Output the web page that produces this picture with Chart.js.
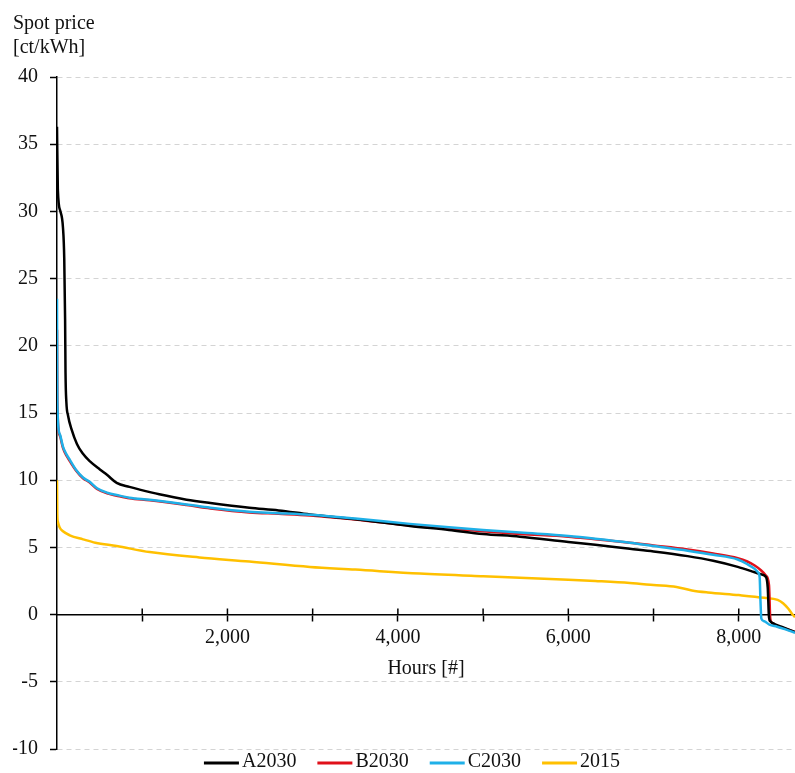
<!DOCTYPE html>
<html>
<head>
<meta charset="utf-8">
<title>Spot price duration curves</title>
<script src="https://cdn.jsdelivr.net/npm/chart.js@4/dist/chart.umd.min.js"></script>
<style>
  html, body { margin: 0; padding: 0; background: #fff; }
  canvas { display: block; }
</style>
</head>
<body>
<canvas id="chart" width="795" height="773"></canvas>
<script>
// Series labels
const seriesLabels = ['A2030', 'B2030', 'C2030', '2015'];

// A2030 - hours [#] and spot price [ct/kWh]
const hoursA = [0, 10, 40, 70, 85, 95, 100, 110, 130, 170, 234, 300, 387, 503, 586, 700, 850, 970, 1200, 1520, 1800, 2257, 2600, 2968, 3500, 4141, 4600, 5000, 5431, 6000, 6316, 6722, 7000, 7400, 7700, 7988, 8187, 8260, 8320, 8340, 8355, 8370, 8420, 8500, 8580, 8660];
const priceA = [36.3, 31.6, 30.0, 28.8, 26.5, 22.0, 18.0, 15.8, 14.8, 13.8, 12.7, 12.0, 11.4, 10.8, 10.4, 9.8, 9.5, 9.3, 8.95, 8.55, 8.3, 7.95, 7.75, 7.45, 7.1, 6.6, 6.3, 6.0, 5.8, 5.4, 5.2, 4.9, 4.7, 4.35, 4.0, 3.55, 3.15, 3.0, 2.8, 2.0, -0.2, -0.5, -0.7, -0.9, -1.1, -1.3];

// B2030
const hoursB = [0, 3, 8, 15, 40, 70, 113, 152, 220, 305, 380, 470, 600, 700, 850, 1088, 1520, 1800, 2257, 2600, 2968, 3500, 4141, 4600, 5000, 5431, 6000, 6316, 6722, 7000, 7400, 7700, 7988, 8100, 8187, 8260, 8320, 8355, 8370, 8390, 8450, 8550, 8660];
const priceB = [21.2, 16.5, 14.8, 13.9, 13.2, 12.4, 11.8, 11.4, 10.75, 10.15, 9.85, 9.35, 9.0, 8.85, 8.65, 8.5, 8.15, 7.9, 7.6, 7.5, 7.38, 7.08, 6.62, 6.4, 6.2, 6.0, 5.8, 5.6, 5.35, 5.15, 4.85, 4.55, 4.2, 3.95, 3.65, 3.3, 2.9, 2.2, -0.3, -0.6, -0.85, -1.05, -1.3];

// C2030
const hoursC = [0, 3, 8, 15, 40, 70, 113, 152, 220, 305, 380, 470, 600, 700, 850, 1088, 1520, 1800, 2257, 2600, 2968, 3500, 4141, 4600, 5000, 5431, 6000, 6316, 6722, 7000, 7400, 7700, 7988, 8100, 8187, 8225, 8245, 8255, 8265, 8300, 8360, 8450, 8550, 8660];
const priceC = [23.5, 17.0, 15.0, 14.0, 13.3, 12.5, 11.9, 11.5, 10.8, 10.2, 9.9, 9.4, 9.05, 8.9, 8.7, 8.55, 8.2, 7.95, 7.65, 7.55, 7.43, 7.15, 6.75, 6.5, 6.3, 6.1, 5.85, 5.65, 5.35, 5.1, 4.75, 4.45, 4.1, 3.75, 3.4, 3.15, 2.8, 1.0, -0.3, -0.5, -0.75, -0.9, -1.1, -1.35];

// 2015
const hours15 = [0, 3, 10, 30, 70, 150, 306, 450, 700, 1088, 1670, 2257, 2968, 3500, 4258, 5000, 5431, 6000, 6316, 6722, 7000, 7270, 7450, 7637, 8000, 8300, 8456, 8520, 8580, 8620, 8660];
const price15 = [10.0, 7.5, 6.9, 6.5, 6.2, 5.9, 5.6, 5.35, 5.1, 4.65, 4.25, 3.95, 3.55, 3.35, 3.05, 2.85, 2.75, 2.6, 2.5, 2.35, 2.2, 2.05, 1.8, 1.65, 1.45, 1.25, 1.1, 0.85, 0.45, 0.1, -0.2];

// Axis ticks and ranges
const xTicks = [1000, 2000, 3000, 4000, 5000, 6000, 7000, 8000];
const xMax = 8660;
const yTicks = [-10, -5, 0, 5, 10, 15, 20, 25, 30, 35, 40];

const COLORS = {
  a: '#000000',
  b: '#e0101a',
  c: '#1fb0e8',
  y2015: '#ffc000',
  text: '#111111',
  grid: '#d4d4d4',
};

const FONT = { family: '"Liberation Serif", "Times New Roman", serif', size: 20 };

const toPoints = (xs, ys) => xs.map((x, i) => ({ x, y: ys[i] }));

// Small tick marks above the x axis line (Excel style crossing ticks)
const crossTicks = {
  id: 'crossTicks',
  afterDraw(chart) {
    const xs = chart.scales.x;
    const y0 = chart.scales.y.getPixelForValue(0);
    const ctx = chart.ctx;
    ctx.save();
    ctx.strokeStyle = '#000';
    ctx.lineWidth = 1.5;
    ctx.beginPath();
    xs.ticks.forEach((t) => {
      const px = xs.getPixelForValue(t.value);
      ctx.moveTo(px, y0 - 6);
      ctx.lineTo(px, y0);
    });
    ctx.stroke();
    ctx.restore();
  },
};

// Legend with long line samples and tight text spacing
const lineLegend = {
  id: 'lineLegend',
  afterDraw(chart) {
    const ctx = chart.ctx;
    const sets = chart.data.datasets;
    const lineLen = 35;
    const gapText = 3;
    const gapItem = 21;
    ctx.save();
    ctx.font = `${FONT.size}px ${FONT.family}`;
    const widths = sets.map((ds) => lineLen + gapText + ctx.measureText(ds.label).width);
    const total = widths.reduce((a, b) => a + b, 0) + gapItem * (sets.length - 1);
    const area = chart.chartArea;
    let x = (area.left + area.right) / 2 - 14 - total / 2;
    const y = area.bottom + 13;
    ctx.textBaseline = 'middle';
    ctx.textAlign = 'left';
    sets.forEach((ds, i) => {
      ctx.strokeStyle = ds.borderColor;
      ctx.lineWidth = 3;
      ctx.beginPath();
      ctx.moveTo(x, y + 1);
      ctx.lineTo(x + lineLen, y + 1);
      ctx.stroke();
      ctx.fillStyle = COLORS.text;
      ctx.fillText(ds.label, x + lineLen + gapText, y);
      x += widths[i] + gapItem;
    });
    ctx.restore();
  },
};

const lineStyle = {
  borderWidth: 2.5,
  pointRadius: 0,
  pointHoverRadius: 0,
  fill: false,
  cubicInterpolationMode: 'monotone',
};

new Chart(document.getElementById('chart'), {
  type: 'line',
  data: {
    datasets: [
      { label: seriesLabels[0], data: toPoints(hoursA, priceA), borderColor: COLORS.a, order: 1, ...lineStyle },
      { label: seriesLabels[1], data: toPoints(hoursB, priceB), borderColor: COLORS.b, order: 2, ...lineStyle },
      { label: seriesLabels[2], data: toPoints(hoursC, priceC), borderColor: COLORS.c, order: 0, ...lineStyle },
      { label: seriesLabels[3], data: toPoints(hours15, price15), borderColor: COLORS.y2015, order: 3, ...lineStyle },
    ],
  },
  options: {
    responsive: false,
    devicePixelRatio: 1,
    animation: false,
    layout: { padding: { left: 13, right: 0, top: 0, bottom: 23 } },
    scales: {
      x: {
        type: 'linear',
        position: { y: 0 },
        min: 0,
        max: xMax,
        afterBuildTicks(scale) {
          scale.ticks = xTicks.map((v) => ({ value: v }));
        },
        ticks: {
          color: COLORS.text,
          font: FONT,
          padding: 5,
          maxRotation: 0,
          autoSkip: false,
          callback: (v) => (v % 2000 === 0 ? v.toLocaleString('en-US') : ''),
        },
        grid: {
          drawOnChartArea: false,
          tickLength: 6,
          tickColor: '#000',
          tickWidth: 1.5,
        },
        border: { display: true, color: '#000', width: 1.5 },
        title: {
          display: true,
          text: 'Hours [#]',
          color: COLORS.text,
          font: FONT,
          padding: { top: 2 },
        },
      },
      y: {
        type: 'linear',
        min: yTicks[0],
        max: yTicks[yTicks.length - 1],
        afterBuildTicks(scale) {
          scale.ticks = yTicks.map((v) => ({ value: v }));
        },
        afterFit(scale) {
          scale.width = 44;
        },
        ticks: {
          color: COLORS.text,
          font: FONT,
          padding: 12,
        },
        grid: {
          color: COLORS.grid,
          lineWidth: 1,
          tickLength: 7,
          tickColor: '#000',
          tickWidth: 1.5,
          tickBorderDash: [],
        },
        border: { display: true, color: '#000', width: 1.5, dash: [5, 4] },
      },
    },
    plugins: {
      legend: { display: false },
      tooltip: { enabled: false },
      title: {
        display: true,
        text: ['Spot price', '[ct/kWh]'],
        align: 'start',
        color: COLORS.text,
        font: { ...FONT, weight: 'normal', lineHeight: 1.2 },
        padding: { top: 12, bottom: 17 },
      },
    },
  },
  plugins: [crossTicks, lineLegend],
});
</script>
</body>
</html>
